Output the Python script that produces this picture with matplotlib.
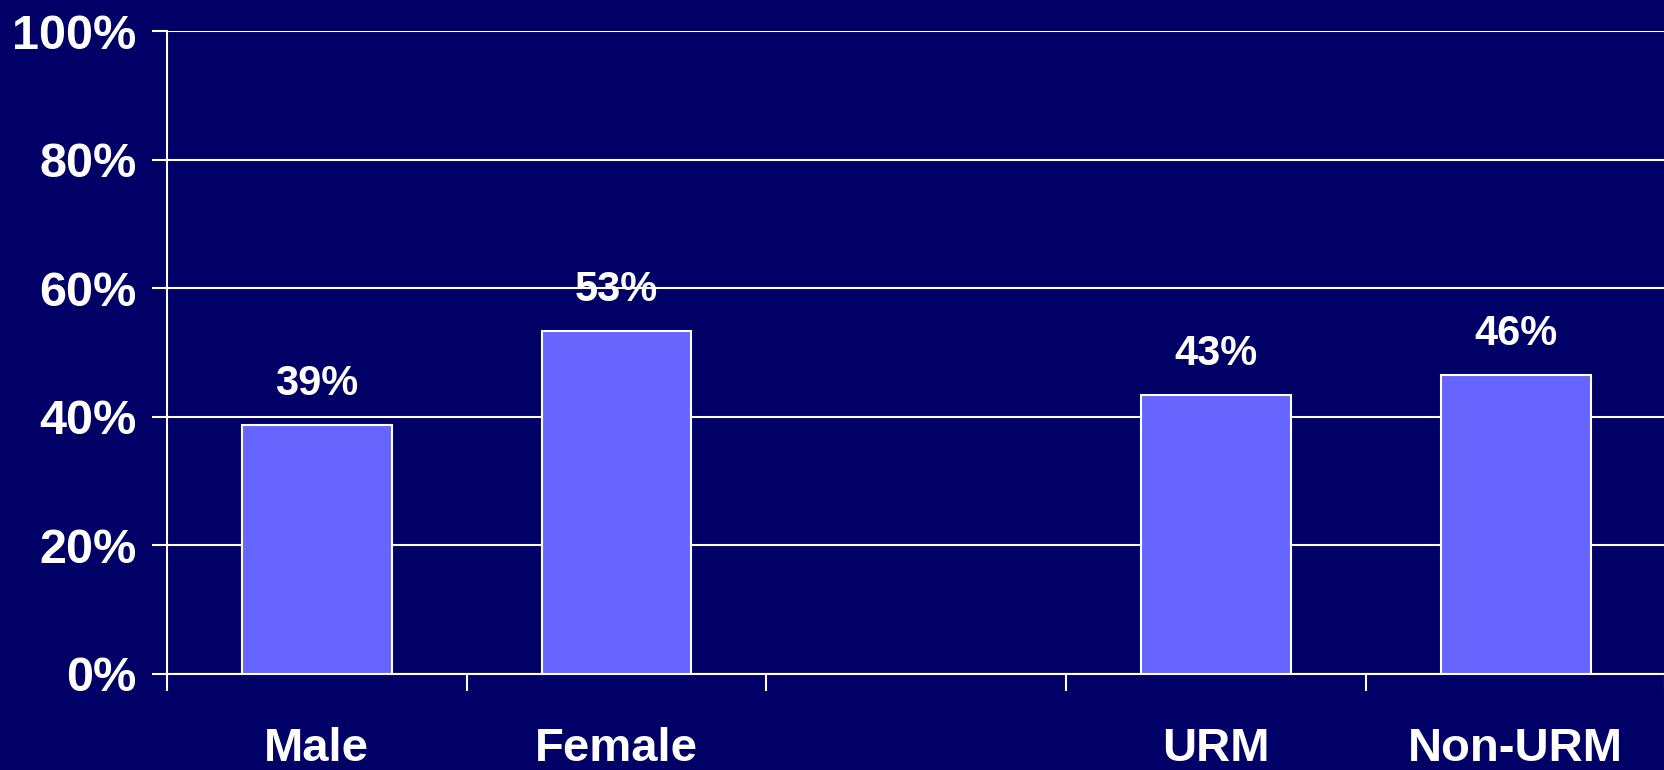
import matplotlib
matplotlib.use("Agg")
import matplotlib.pyplot as plt
from matplotlib.ticker import FixedLocator

categories = ["Male", "Female", "", "URM", "Non-URM"]
values = [38.8, 53.3, None, 43.4, 46.5]
value_labels = ["39%", "53%", "", "43%", "46%"]
y_ticks = [0, 20, 40, 60, 80, 100]

bg = "#000066"
bar_color = "#6666FF"

plt.rcParams["font.family"] = ["Liberation Sans", "DejaVu Sans"]
plt.rcParams["font.weight"] = "bold"

fig = plt.figure(figsize=(16.65, 7.7), dpi=100, facecolor=bg)
ax = fig.add_axes([0.1003, 0.1247, 0.9, 0.835])
ax.set_facecolor(bg)

xs = [i for i, v in enumerate(values) if v is not None]
hs = [v for v in values if v is not None]
ax.bar(xs, hs, width=0.5, color=bar_color, edgecolor="white", linewidth=1.5, zorder=3)

for i, (v, lab) in enumerate(zip(values, value_labels)):
    if v is None:
        continue
    ax.annotate(lab, (i, v), xytext=(0, 15), textcoords="offset points",
                ha="center", va="bottom", color="white", fontsize=30, fontweight="bold")

ax.set_xlim(-0.5, 4.5)
ax.set_ylim(0, 100)
ax.set_yticks(y_ticks)
ax.set_yticklabels([f"{t}%" for t in y_ticks])
ax.yaxis.grid(True, color="white", linewidth=1.5, zorder=1)
ax.set_axisbelow(True)

ax.set_xticks(range(len(categories)))
ax.set_xticklabels(categories)
ax.xaxis.set_minor_locator(FixedLocator([i - 0.5 for i in range(len(categories) + 1)]))
ax.tick_params(axis="x", which="major", length=0, pad=38, labelsize=34, colors="white")
ax.tick_params(axis="x", which="minor", length=12, width=1.5, color="white")
ax.tick_params(axis="y", length=11, width=1.5, pad=11, labelsize=35, colors="white")
for t in ax.get_xticklabels() + ax.get_yticklabels():
    t.set_fontweight("bold")

for s in ["top", "right"]:
    ax.spines[s].set_visible(False)
for s in ["left", "bottom"]:
    ax.spines[s].set_color("white")
    ax.spines[s].set_linewidth(1.5)

fig.savefig("out.png", dpi=100, facecolor=bg)
